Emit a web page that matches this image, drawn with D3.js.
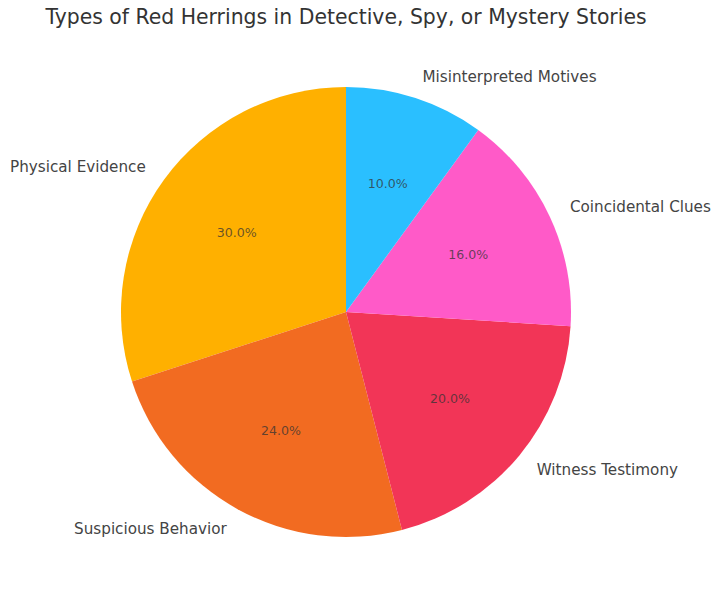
<!DOCTYPE html>
<html>
<head>
<meta charset="utf-8">
<script src="https://cdn.jsdelivr.net/npm/d3@7"></script>
<style>
  body { margin: 0; background: #fff; }
  text { font-family: "DejaVu Sans", sans-serif; }
</style>
</head>
<body>
<div id="chart"></div>
<script>
const categories = ["Physical Evidence", "Suspicious Behavior", "Witness Testimony", "Coincidental Clues", "Misinterpreted Motives"];
const shares = [30, 24, 20, 16, 10];
const colors = ["#FFB000", "#F26B21", "#F23557", "#FF5AC8", "#2ABFFF"];

const width = 720, height = 603;
const cx = 346, cy = 312, radius = 225;

const svg = d3.select("#chart").append("svg")
    .attr("width", width)
    .attr("height", height);

// Title
svg.append("text")
    .attr("x", cx)
    .attr("y", 17)
    .attr("text-anchor", "middle")
    .attr("dominant-baseline", "central")
    .style("font-size", "20.4px")
    .style("fill", "#333")
    .text("Types of Red Herrings in Detective, Spy, or Mystery Stories");

// Counterclockwise from 12 o'clock, like matplotlib startangle=90
const pie = d3.pie()
    .sort(null)
    .startAngle(0)
    .endAngle(-2 * Math.PI)
    .value(d => d.value);

const data = categories.map((c, i) => ({ label: c, value: shares[i], color: colors[i] }));
const arcs = pie(data);

const arc = d3.arc().innerRadius(0).outerRadius(radius);

const g = svg.append("g").attr("transform", `translate(${cx},${cy})`);

g.selectAll("path")
    .data(arcs)
    .enter()
    .append("path")
    .attr("d", arc)
    .attr("fill", d => d.data.color);

const total = d3.sum(shares);
const mid = d => (d.startAngle + d.endAngle) / 2;

// Category labels at 1.1 r
g.selectAll(".label")
    .data(arcs)
    .enter()
    .append("text")
    .attr("class", "label")
    .attr("x", d => Math.sin(mid(d)) * radius * 1.1)
    .attr("y", d => -Math.cos(mid(d)) * radius * 1.1)
    .attr("text-anchor", d => Math.sin(mid(d)) < 0 ? "end" : "start")
    .attr("dominant-baseline", "central")
    .style("font-size", "15.2px")
    .style("fill", "#444")
    .text(d => d.data.label);

// Percent labels at 0.6 r
g.selectAll(".pct")
    .data(arcs)
    .enter()
    .append("text")
    .attr("class", "pct")
    .attr("x", d => Math.sin(mid(d)) * radius * 0.6)
    .attr("y", d => -Math.cos(mid(d)) * radius * 0.6)
    .attr("text-anchor", "middle")
    .attr("dominant-baseline", "central")
    .style("font-size", "12.6px")
    .style("fill", "#333")
    .style("fill-opacity", 0.75)
    .text(d => (d.data.value / total * 100).toFixed(1) + "%");
</script>
</body>
</html>
